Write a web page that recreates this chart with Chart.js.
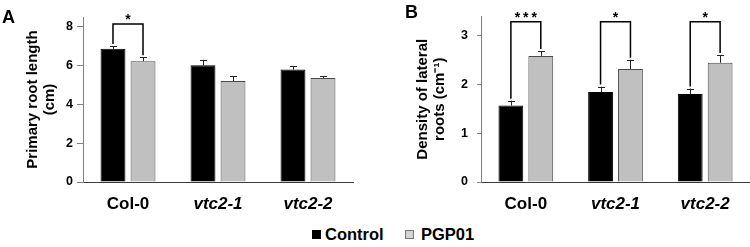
<!DOCTYPE html>
<html>
<head>
<meta charset="utf-8">
<script src="https://cdn.jsdelivr.net/npm/chart.js@4"></script>
<style>
  body { margin: 0; background: #fff; }
  #wrap { position: relative; width: 750px; height: 247px; font-family: "Liberation Sans", Arial, sans-serif; }
  canvas { position: absolute; top: 0; }
  .letter { position: absolute; font-weight: bold; font-size: 18px; line-height: 1; }
  .legtext { position: absolute; top: 226px; font-weight: bold; font-size: 16.5px; line-height: 1; }
  .box { position: absolute; top: 230px; width: 7px; height: 7px; }
</style>
</head>
<body>
<div id="wrap">
  <canvas id="chartA" width="375" height="212" style="left:0"></canvas>
  <canvas id="chartB" width="375" height="212" style="left:375px"></canvas>
  <div class="letter" style="left:2px;top:8px">A</div>
  <div class="letter" style="left:405px;top:3px">B</div>
  <div id="legend">
    <span class="box" style="left:312px;background:#000;border:1px solid #000"></span>
    <span class="legtext" style="left:325px">Control</span>
    <span class="box" style="left:405px;background:#d4d4d4;border:1px solid #777"></span>
    <span class="legtext" style="left:421px">PGP01</span>
  </div>
</div>
<script>
const categories = ['Col-0', 'vtc2-1', 'vtc2-2'];
const seriesNames = ['Control', 'PGP01'];

// panel A - primary root length (cm)
const rootControl = [6.86, 6.01, 5.79];
const rootControlErr = [0.14, 0.28, 0.19];
const rootPGP = [6.22, 5.20, 5.36];
const rootPGPErr = [0.21, 0.26, 0.09];
const rootSig = ['*', '', ''];

// panel B - density of lateral roots (cm-1)
const densControl = [1.57, 1.85, 1.81];
const densControlErr = [0.10, 0.11, 0.11];
const densPGP = [2.59, 2.32, 2.45];
const densPGPErr = [0.10, 0.19, 0.16];
const densSig = ['***', '*', '*'];

const FONT = "'Liberation Sans', Arial, sans-serif";

// draws the upper error bars and the significance brackets
const extrasPlugin = {
    id: 'extras',
    afterDatasetsDraw(chart, args, opts) {
        const ctx = chart.ctx;
        const y = chart.scales.y;
        const tops = [];
        ctx.save();
        chart.data.datasets.forEach((ds, i) => {
            const meta = chart.getDatasetMeta(i);
            tops[i] = [];
            meta.data.forEach((bar, j) => {
                const top = y.getPixelForValue(ds.data[j] + ds.errors[j]);
                tops[i][j] = top;
                ctx.strokeStyle = '#222';
                ctx.lineWidth = 1;
                ctx.beginPath();
                ctx.moveTo(Math.round(bar.x) + 0.5, bar.y);
                ctx.lineTo(Math.round(bar.x) + 0.5, top);
                ctx.moveTo(Math.round(bar.x) - 3, Math.round(top) + 0.5);
                ctx.lineTo(Math.round(bar.x) + 4, Math.round(top) + 0.5);
                ctx.stroke();
            });
        });
        const bracketY = y.getPixelForValue(opts.level);
        opts.marks.forEach((mark, j) => {
            if (!mark) return;
            const x1 = chart.getDatasetMeta(0).data[j].x;
            const x2 = chart.getDatasetMeta(1).data[j].x;
            ctx.strokeStyle = '#000';
            ctx.lineWidth = 1.5;
            ctx.beginPath();
            ctx.moveTo(x1, tops[0][j] - 2);
            ctx.lineTo(x1, bracketY);
            ctx.lineTo(x2, bracketY);
            ctx.lineTo(x2, tops[1][j] - 2);
            ctx.stroke();
            ctx.fillStyle = '#000';
            ctx.font = 'bold 14px ' + FONT;
            ctx.textAlign = 'center';
            ctx.textBaseline = 'alphabetic';
            ctx.letterSpacing = '3px';
            ctx.fillText(mark, (x1 + x2) / 2 + 1.5, bracketY);
        });
        ctx.restore();
    }
};

function makeChart(id, ctrl, ctrlErr, pgp, pgpErr, sig, cfg) {
    return new Chart(document.getElementById(id), {
        type: 'bar',
        data: {
            labels: categories,
            datasets: [{
                label: seriesNames[0],
                data: ctrl,
                errors: ctrlErr,
                backgroundColor: '#000000',
                borderColor: '#000000',
                borderWidth: 1
            }, {
                label: seriesNames[1],
                data: pgp,
                errors: pgpErr,
                backgroundColor: '#c0c0c0',
                borderColor: '#4a4a4a',
                borderWidth: 1
            }]
        },
        options: {
            responsive: false,
            animation: false,
            categoryPercentage: 0.667,
            barPercentage: 0.83,
            layout: { padding: { top: cfg.padTop, right: cfg.padRight, left: 0, bottom: 0 } },
            plugins: {
                legend: { display: false },
                tooltip: { enabled: false },
                extras: { level: cfg.level, marks: sig }
            },
            scales: {
                x: {
                    grid: { display: false },
                    border: { color: '#3a3a3a', width: 1 },
                    ticks: {
                        color: '#000',
                        padding: 4,
                        font: c => ({ family: FONT, size: 17, weight: 'bold', style: c.index > 0 ? 'italic' : 'normal' })
                    },
                    afterFit: s => { s.height = 30; }
                },
                y: {
                    min: 0,
                    max: cfg.max,
                    grid: { drawOnChartArea: false, drawTicks: true, tickLength: cfg.tickLen, color: '#808080' },
                    border: { color: '#808080', width: 1 },
                    ticks: {
                        stepSize: cfg.step,
                        includeBounds: false,
                        color: '#000',
                        padding: cfg.tickPad,
                        font: { family: FONT, size: 12.5, weight: 'bold' }
                    },
                    title: {
                        display: true,
                        text: cfg.title,
                        color: '#000',
                        font: { family: FONT, size: 15, weight: 'bold', lineHeight: 1.15 },
                        padding: { top: cfg.titlePad, bottom: 0 }
                    },
                    afterFit: s => { s.width = cfg.axisWidth; }
                }
            }
        },
        plugins: [extrasPlugin]
    });
}

makeChart('chartA', rootControl, rootControlErr, rootPGP, rootPGPErr, rootSig, {
    max: 8.5, step: 2, level: 8.14, padTop: 17, padRight: 22, axisWidth: 83,
    tickLen: 6, tickPad: 4, titlePad: 24, title: ['Primary root length', '(cm)']
});

makeChart('chartB', densControl, densControlErr, densPGP, densPGPErr, densSig, {
    max: 3.4, step: 1, level: 3.29, padTop: 15, padRight: 0, axisWidth: 106,
    tickLen: 4, tickPad: 9, titlePad: 39, title: ['Density of lateral', 'roots (cm\u207B\u00B9)']
});
</script>
</body>
</html>
